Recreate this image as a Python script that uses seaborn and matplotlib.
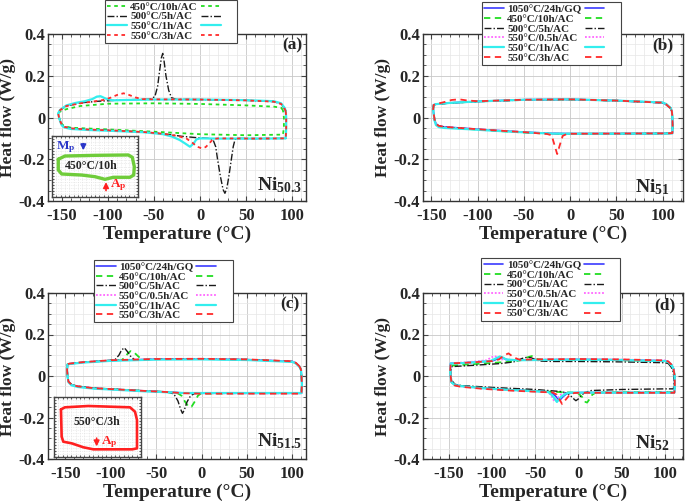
import matplotlib
matplotlib.use('Agg')
import matplotlib.pyplot as plt
from matplotlib.ticker import MultipleLocator, FuncFormatter
import seaborn as sns

# ---- data (temperature in C, heat flow in W/g) ----
LBL_GQ = '1050°C/24h/GQ'
LBL_450 = '450°C/10h/AC'
LBL_500 = '500°C/5h/AC'
LBL_05 = '550°C/0.5h/AC'
LBL_1 = '550°C/1h/AC'
LBL_3 = '550°C/3h/AC'

# (a) Ni50.3
A_GREEN_T = [90, 88, 80, 50, 0, -50, -100, -130, -145, -152, -154, -153, -151, -148, -140, -120, -100, -50, 0, 50, 90, 91, 91, 90]
A_GREEN_HF = [0.035, 0.047, 0.052, 0.058, 0.065, 0.068, 0.066, 0.055, 0.04, 0.028, 0.02, 0.0, -0.025, -0.04, -0.049, -0.053, -0.057, -0.068, -0.08, -0.085, -0.082, -0.05, 0.0, 0.035]
A_BLACK_T = [93, 92, 88, 80, 50, 0, -26, -31, -34, -37, -39, -40.5, -42, -44, -46, -49, -54, -60, -80, -110, -130, -145, -152, -154, -153, -151.5, -150, -147, -140, -120, -90, -60, -40, -20, 0, 10, 14, 17, 19, 22, 25, 27, 29, 31, 34, 36, 38, 42, 60, 93, 93.5, 93.5, 93]
A_BLACK_HF = [0.03, 0.04, 0.065, 0.076, 0.082, 0.086, 0.087, 0.095, 0.13, 0.2, 0.27, 0.307, 0.285, 0.22, 0.15, 0.1, 0.088, 0.087, 0.085, 0.078, 0.07, 0.055, 0.035, 0.02, 0.0, -0.02, -0.035, -0.045, -0.052, -0.058, -0.063, -0.07, -0.078, -0.09, -0.098, -0.1, -0.105, -0.14, -0.2, -0.28, -0.345, -0.363, -0.34, -0.29, -0.2, -0.14, -0.105, -0.1, -0.101, -0.1, -0.05, 0.0, 0.03]
A_CYAN_T = [93, 92, 88, 80, 50, 0, -50, -80, -95, -102, -108, -112, -117, -125, -135, -145, -152, -154, -153, -151.5, -150, -147, -140, -120, -90, -60, -40, -30, -22, -16, -11, -7, -4, 0, 20, 60, 93, 93.5, 93.5, 93]
A_CYAN_HF = [0.03, 0.045, 0.068, 0.078, 0.083, 0.086, 0.086, 0.084, 0.082, 0.09, 0.102, 0.1, 0.088, 0.078, 0.07, 0.058, 0.036, 0.02, 0.0, -0.022, -0.038, -0.048, -0.055, -0.06, -0.065, -0.071, -0.08, -0.092, -0.108, -0.125, -0.14, -0.125, -0.105, -0.1, -0.101, -0.101, -0.1, -0.05, 0.0, 0.03]
A_RED_T = [93, 92, 88, 80, 50, 0, -50, -62, -70, -77, -83, -90, -97, -105, -115, -130, -145, -152, -154, -153, -151.5, -150, -147, -140, -120, -90, -60, -40, -25, -15, -8, -3, 2, 6, 10, 14, 20, 60, 93, 93.5, 93.5, 93]
A_RED_HF = [0.03, 0.04, 0.065, 0.076, 0.082, 0.086, 0.087, 0.088, 0.096, 0.108, 0.116, 0.108, 0.095, 0.084, 0.077, 0.068, 0.055, 0.035, 0.02, 0.0, -0.02, -0.035, -0.045, -0.052, -0.058, -0.063, -0.07, -0.078, -0.088, -0.1, -0.122, -0.14, -0.148, -0.142, -0.125, -0.103, -0.1, -0.101, -0.1, -0.05, 0.0, 0.03]

# (b) Ni51
B_T = [108.5, 104, 100, 50, 0, -50, -100, -130, -145, -147.5, -148, -147.5, -146.5, -145, -142, -136, -110, -80, -50, -20, 0, 50, 100, 110.5, 110.8, 110.5, 110, 108.5]
B_BLUE_HF = [0.044, 0.062, 0.071, 0.081, 0.087, 0.085, 0.077, 0.07, 0.064, 0.06, 0.04, 0.02, -0.01, -0.03, -0.04, -0.045, -0.053, -0.062, -0.07, -0.076, -0.077, -0.077, -0.076, -0.075, -0.04, 0.0, 0.03, 0.044]
B_GREEN_HF = [0.045, 0.063, 0.072, 0.081, 0.086, 0.084, 0.077, 0.069, 0.063, 0.059, 0.04, 0.02, -0.012, -0.032, -0.042, -0.047, -0.055, -0.064, -0.072, -0.078, -0.078, -0.077, -0.076, -0.075, -0.04, 0.0, 0.03, 0.045]
B_BLACK_HF = [0.043, 0.061, 0.07, 0.08, 0.086, 0.084, 0.076, 0.069, 0.063, 0.059, 0.04, 0.02, -0.011, -0.031, -0.041, -0.046, -0.054, -0.063, -0.071, -0.077, -0.078, -0.078, -0.077, -0.076, -0.04, 0.0, 0.03, 0.043]
B_MAG_HF = [0.045, 0.063, 0.071, 0.081, 0.087, 0.085, 0.077, 0.07, 0.064, 0.06, 0.04, 0.02, -0.012, -0.031, -0.041, -0.046, -0.054, -0.062, -0.07, -0.076, -0.078, -0.077, -0.076, -0.075, -0.04, 0.0, 0.03, 0.045]
B_CYAN_HF = [0.046, 0.064, 0.072, 0.081, 0.087, 0.085, 0.077, 0.07, 0.064, 0.06, 0.04, 0.018, -0.015, -0.036, -0.046, -0.05, -0.056, -0.064, -0.071, -0.077, -0.078, -0.078, -0.077, -0.076, -0.04, 0.0, 0.03, 0.046]
B_RED_T = [108.5, 104, 100, 50, 0, -50, -100, -112, -120, -128, -136, -145, -147.5, -148, -147.5, -146.5, -145, -142, -136, -110, -80, -50, -25, -20, -17, -14, -11, -8, -5, 0, 50, 100, 110.5, 110.8, 110.5, 110, 108.5]
B_RED_HF = [0.044, 0.062, 0.071, 0.081, 0.087, 0.085, 0.078, 0.082, 0.087, 0.084, 0.074, 0.064, 0.06, 0.04, 0.02, -0.01, -0.03, -0.04, -0.045, -0.053, -0.062, -0.07, -0.079, -0.085, -0.13, -0.175, -0.13, -0.088, -0.082, -0.078, -0.077, -0.076, -0.075, -0.04, 0.0, 0.03, 0.044]

# (c) Ni51.5
C_T = [108, 104, 100, 50, 0, -50, -100, -130, -145, -147.5, -148, -147.5, -146.5, -143, -136, -118, -100, -62, -39, -20, 0, 50, 100, 110, 110.5, 110, 109.5, 108]
C_BLUE_HF = [0.045, 0.062, 0.07, 0.079, 0.082, 0.081, 0.075, 0.066, 0.059, 0.056, 0.03, 0.0, -0.027, -0.042, -0.05, -0.059, -0.063, -0.072, -0.077, -0.082, -0.083, -0.083, -0.083, -0.083, -0.04, 0.0, 0.03, 0.045]
C_MAG_HF = [0.045, 0.062, 0.07, 0.079, 0.082, 0.081, 0.075, 0.066, 0.059, 0.056, 0.03, 0.0, -0.028, -0.043, -0.051, -0.06, -0.064, -0.073, -0.077, -0.082, -0.083, -0.084, -0.084, -0.084, -0.04, 0.0, 0.03, 0.045]
C_CYAN_HF = [0.044, 0.06, 0.068, 0.077, 0.08, 0.079, 0.073, 0.065, 0.058, 0.055, 0.03, 0.0, -0.03, -0.045, -0.053, -0.061, -0.065, -0.074, -0.078, -0.082, -0.082, -0.082, -0.082, -0.082, -0.04, 0.0, 0.03, 0.044]
C_RED_HF = [0.046, 0.063, 0.071, 0.08, 0.083, 0.082, 0.076, 0.067, 0.06, 0.057, 0.03, 0.0, -0.027, -0.042, -0.05, -0.059, -0.063, -0.072, -0.077, -0.083, -0.085, -0.085, -0.085, -0.085, -0.04, 0.0, 0.03, 0.046]
C_BLACK_T = [108, 104, 100, 50, 0, -50, -70, -74, -78, -82, -85, -88, -91, -95, -98, -100, -130, -145, -147.5, -148, -147.5, -146.5, -143, -136, -118, -100, -62, -39, -33, -30, -26, -23, -21, -19, -16, -12, -8, 0, 50, 100, 110, 110.5, 110, 109.5, 108]
C_BLACK_HF = [0.045, 0.062, 0.07, 0.079, 0.082, 0.081, 0.077, 0.079, 0.095, 0.12, 0.136, 0.125, 0.1, 0.08, 0.076, 0.075, 0.066, 0.059, 0.056, 0.03, 0.0, -0.027, -0.042, -0.05, -0.059, -0.063, -0.072, -0.077, -0.082, -0.09, -0.12, -0.16, -0.18, -0.165, -0.125, -0.095, -0.085, -0.083, -0.083, -0.083, -0.083, -0.04, 0.0, 0.03, 0.045]
C_GREEN_T = [108, 104, 100, 50, 0, -50, -63, -67, -71, -75, -78, -81, -84, -88, -100, -130, -145, -147.5, -148, -147.5, -146.5, -143, -136, -118, -100, -62, -39, -26, -22, -18, -14, -11, -7, -4, -1, 50, 100, 110, 110.5, 110, 109.5, 108]
C_GREEN_HF = [0.045, 0.062, 0.07, 0.079, 0.082, 0.081, 0.078, 0.084, 0.1, 0.117, 0.12, 0.11, 0.09, 0.077, 0.075, 0.066, 0.059, 0.056, 0.03, 0.0, -0.027, -0.042, -0.05, -0.059, -0.063, -0.072, -0.077, -0.084, -0.095, -0.125, -0.15, -0.148, -0.12, -0.095, -0.085, -0.083, -0.083, -0.083, -0.04, 0.0, 0.03, 0.045]

# (d) Ni52
D_BLUE_T = [107.7, 104, 100, 50, 0, -50, -70, -82, -87, -90, -94, -100, -130, -148, -148.5, -148, -147, -143, -136, -110, -80, -44, -32, -27, -22, -18, -13, 0, 50, 100, 111, 111.5, 111.3, 110, 107.7]
D_BLUE_HF = [0.053, 0.068, 0.073, 0.078, 0.08, 0.078, 0.077, 0.078, 0.086, 0.09, 0.082, 0.072, 0.064, 0.061, 0.03, 0.0, -0.03, -0.043, -0.048, -0.058, -0.066, -0.074, -0.077, -0.095, -0.118, -0.1, -0.083, -0.08, -0.08, -0.08, -0.08, -0.04, 0.0, 0.035, 0.053]
D_GREEN_T = [107.5, 104, 100, 50, 0, -40, -48, -54, -59, -64, -75, -100, -130, -148, -148.5, -148, -147, -143, -136, -110, -80, -44, -5, 0, 4, 8, 10, 13, 16, 20, 50, 100, 111, 111.5, 111.3, 110, 107.5]
D_GREEN_HF = [0.052, 0.066, 0.071, 0.076, 0.078, 0.078, 0.082, 0.096, 0.09, 0.078, 0.07, 0.063, 0.055, 0.05, 0.025, 0.0, -0.03, -0.043, -0.048, -0.058, -0.066, -0.074, -0.08, -0.085, -0.1, -0.125, -0.128, -0.11, -0.09, -0.08, -0.078, -0.077, -0.077, -0.04, 0.0, 0.035, 0.052]
D_BLACK_T = [107, 104, 100, 50, 0, -30, -45, -50, -55, -60, -65, -75, -90, -120, -140, -147, -148, -147, -143, -136, -100, -50, -20, -12, -8, -5, -3, 0, 3, 7, 15, 50, 100, 110, 110.5, 110.3, 109, 107]
D_BLACK_HF = [0.045, 0.06, 0.064, 0.068, 0.07, 0.07, 0.072, 0.08, 0.088, 0.09, 0.085, 0.068, 0.06, 0.052, 0.047, 0.045, 0.02, -0.02, -0.04, -0.046, -0.055, -0.065, -0.075, -0.085, -0.1, -0.112, -0.119, -0.11, -0.095, -0.08, -0.07, -0.065, -0.062, -0.062, -0.03, 0.0, 0.03, 0.045]
D_MAG_T = [107.7, 104, 100, 50, 0, -50, -75, -88, -93, -97, -101, -106, -130, -148, -148.5, -148, -147, -143, -136, -110, -80, -44, -36, -32, -28, -24, -20, -14, 0, 50, 100, 111, 111.5, 111.3, 110, 107.7]
D_MAG_HF = [0.055, 0.07, 0.075, 0.079, 0.081, 0.079, 0.077, 0.08, 0.088, 0.096, 0.09, 0.076, 0.066, 0.062, 0.03, 0.0, -0.03, -0.045, -0.05, -0.06, -0.068, -0.075, -0.077, -0.09, -0.122, -0.105, -0.088, -0.081, -0.08, -0.08, -0.079, -0.079, -0.04, 0.0, 0.035, 0.055]
D_CYAN_T = [107.7, 104, 100, 50, 0, -50, -72, -84, -88, -91, -95, -102, -130, -148, -148.5, -148, -147, -143, -136, -110, -80, -44, -35, -30, -25, -20, -15, -10, 0, 50, 100, 111, 111.5, 111.3, 110, 107.7]
D_CYAN_HF = [0.052, 0.067, 0.072, 0.077, 0.079, 0.077, 0.076, 0.08, 0.09, 0.094, 0.086, 0.072, 0.063, 0.06, 0.03, 0.0, -0.03, -0.044, -0.049, -0.059, -0.067, -0.075, -0.077, -0.095, -0.125, -0.1, -0.085, -0.08, -0.08, -0.08, -0.08, -0.08, -0.04, 0.0, 0.035, 0.052]
D_RED_T = [107.7, 104, 100, 50, 0, -50, -68, -75, -81, -86, -92, -100, -130, -148, -148.5, -148, -147, -143, -136, -110, -80, -44, -30, -25, -19, -14, -10, -5, 0, 50, 100, 111, 111.5, 111.3, 110, 107.7]
D_RED_HF = [0.055, 0.07, 0.075, 0.08, 0.082, 0.08, 0.078, 0.09, 0.109, 0.1, 0.08, 0.072, 0.064, 0.061, 0.03, 0.0, -0.032, -0.046, -0.052, -0.062, -0.07, -0.077, -0.079, -0.09, -0.135, -0.11, -0.09, -0.082, -0.081, -0.081, -0.081, -0.081, -0.04, 0.0, 0.035, 0.055]

# schematic loops in the two insets (inset-fraction units)
INSET_A_X = [0.073, 0.151, 0.5, 0.887, 0.934, 0.957, 0.95, 0.907, 0.713, 0.616, 0.5, 0.345, 0.113, 0.073, 0.073]
INSET_A_Y = [0.618, 0.672, 0.683, 0.689, 0.651, 0.497, 0.36, 0.323, 0.323, 0.29, 0.333, 0.36, 0.377, 0.443, 0.618]
INSET_C_X = [0.08, 0.126, 0.395, 0.874, 0.931, 0.954, 0.954, 0.9, 0.452, 0.337, 0.203, 0.107, 0.088, 0.08]
INSET_C_Y = [0.794, 0.828, 0.85, 0.828, 0.755, 0.617, 0.144, 0.128, 0.128, 0.162, 0.228, 0.255, 0.338, 0.794]

STYLE = {
    LBL_GQ: dict(color='#3b3bff', ls='-', lw=1.2),
    LBL_450: dict(color='#22dd22', ls=(0, (3.5, 2.5)), lw=1.3),
    LBL_500: dict(color='#1a1a1a', ls=(0, (5, 1.5, 1, 1.5)), lw=1.0),
    LBL_05: dict(color='#ff66ff', ls=(0, (1, 1)), lw=1.3),
    LBL_1: dict(color='#33eeee', ls='-', lw=1.6),
    LBL_3: dict(color='#ff2a2a', ls=(0, (3.5, 2.5)), lw=1.3),
}

sns.set_style('ticks')
plt.rcParams['font.family'] = ['Liberation Serif', 'DejaVu Serif']
plt.rcParams['font.weight'] = 'bold'
plt.rcParams['axes.labelweight'] = 'bold'
plt.rcParams['axes.unicode_minus'] = False
plt.rcParams['mathtext.fontset'] = 'custom'
plt.rcParams['mathtext.rm'] = 'Liberation Serif:bold'
plt.rcParams['mathtext.it'] = 'Liberation Serif:bold:italic'
plt.rcParams['mathtext.bf'] = 'Liberation Serif:bold'

fig = plt.figure(figsize=(6.85, 5.03), dpi=100)


def px_rect(l, t, r, b):
    return [l / 685, 1 - b / 503, (r - l) / 685, (b - t) / 503]


def style_axes(ax, xlim):
    ax.set_xlim(xlim)
    ax.set_ylim(-0.4, 0.4)
    ax.xaxis.set_major_locator(MultipleLocator(50))
    ax.xaxis.set_minor_locator(MultipleLocator(10))
    ax.yaxis.set_major_locator(MultipleLocator(0.2))
    ax.yaxis.set_minor_locator(MultipleLocator(0.05))
    ax.yaxis.set_major_formatter(FuncFormatter(lambda v, p: '0' if abs(v) < 1e-9 else f'{v:.1f}'))
    ax.grid(which='major', color='#c8c8c8', lw=0.6)
    ax.grid(which='minor', color='#e6e6e6', lw=0.5)
    ax.set_axisbelow(True)
    ax.tick_params(which='both', direction='in', top=True, right=True, labelsize=12, color='#444444')
    ax.tick_params(which='major', length=3.5)
    ax.tick_params(which='minor', length=2)
    ax.tick_params(axis='x', pad=5)
    ax.tick_params(axis='y', pad=2)
    for s in ax.spines.values():
        s.set_color('#333333')
        s.set_linewidth(1.0)
    ax.set_xlabel('Temperature (°C)', fontsize=14, labelpad=1)
    ax.set_ylabel('Heat flow (W/g)', fontsize=12.5, labelpad=2)


def draw(ax, T, HF, label, ls=None):
    st = STYLE[label]
    sns.lineplot(x=T, y=HF, ax=ax, sort=False, estimator=None, color=st['color'],
                 linestyle=ls if ls is not None else st['ls'], lw=st['lw'])
    return ax.lines[-1]


def add_legend(ax, handles, labels, cx, top):
    n = len(handles)
    leg = ax.legend(handles + handles, labels + ['    '] * n, ncol=2, loc='upper center',
                    bbox_to_anchor=(cx, top), frameon=True, fancybox=False, edgecolor='#444444',
                    framealpha=1, prop=dict(family='Liberation Serif', weight='bold', size=7.9),
                    handlelength=1.8, handletextpad=0.3, columnspacing=0.3, labelspacing=0.0,
                    borderpad=0.2, borderaxespad=0)
    leg.get_frame().set_linewidth(0.8)
    leg.set_zorder(10)


def add_inset(rect, lx, ly, color, lw):
    iax = fig.add_axes(rect)
    iax.set_xlim(0, 1)
    iax.set_ylim(0, 1)
    iax.xaxis.set_major_locator(MultipleLocator(0.1))
    iax.xaxis.set_minor_locator(MultipleLocator(0.05))
    iax.yaxis.set_major_locator(MultipleLocator(0.1))
    iax.yaxis.set_minor_locator(MultipleLocator(0.05))
    iax.grid(which='both', color='#dddddd', lw=0.5, ls=':')
    iax.tick_params(which='both', direction='in', top=True, right=True, length=1.5,
                    labelbottom=False, labelleft=False, color='#555555')
    for s in iax.spines.values():
        s.set_color('#444444')
        s.set_linewidth(1.0)
    sns.lineplot(x=lx, y=ly, ax=iax, sort=False, estimator=None, color=color, lw=lw)
    iax.set_xlabel('')
    iax.set_ylabel('')
    return iax


# ---- (a) ----
ax_a = fig.add_axes(px_rect(48, 34, 306, 201))
h = [draw(ax_a, A_GREEN_T, A_GREEN_HF, LBL_450, ls=(0, (2, 2))),
     draw(ax_a, A_BLACK_T, A_BLACK_HF, LBL_500),
     draw(ax_a, A_CYAN_T, A_CYAN_HF, LBL_1),
     draw(ax_a, A_RED_T, A_RED_HF, LBL_3, ls=(0, (2, 2)))]
style_axes(ax_a, (-165, 115))
add_legend(ax_a, h, [LBL_450, LBL_500, LBL_1, LBL_3], 0.477, 1.204)
ax_a.text(0.946, 0.934, '(a)', transform=ax_a.transAxes, ha='center', va='center', fontsize=12.5)
ax_a.text(0.985, 0.065, r'Ni$_{\mathrm{50.3}}$', transform=ax_a.transAxes, ha='right', va='baseline', fontsize=14)

# ---- (b) ----
ax_b = fig.add_axes(px_rect(423, 34, 683, 201))
h = [draw(ax_b, B_T, B_BLUE_HF, LBL_GQ),
     draw(ax_b, B_T, B_GREEN_HF, LBL_450),
     draw(ax_b, B_T, B_BLACK_HF, LBL_500),
     draw(ax_b, B_T, B_MAG_HF, LBL_05),
     draw(ax_b, B_T, B_CYAN_HF, LBL_1),
     draw(ax_b, B_RED_T, B_RED_HF, LBL_3)]
style_axes(ax_b, (-159, 122))
labels6 = [LBL_GQ, LBL_450, LBL_500, LBL_05, LBL_1, LBL_3]
add_legend(ax_b, h, labels6, 0.494, 1.19)
ax_b.text(0.923, 0.934, '(b)', transform=ax_b.transAxes, ha='center', va='center', fontsize=12.5)
ax_b.text(0.95, 0.055, r'Ni$_{\mathrm{51}}$', transform=ax_b.transAxes, ha='right', va='baseline', fontsize=14)

# ---- (c) ----
ax_c = fig.add_axes(px_rect(48, 293, 306, 459))
h = [draw(ax_c, C_T, C_BLUE_HF, LBL_GQ),
     draw(ax_c, C_GREEN_T, C_GREEN_HF, LBL_450),
     draw(ax_c, C_BLACK_T, C_BLACK_HF, LBL_500),
     draw(ax_c, C_T, C_MAG_HF, LBL_05),
     draw(ax_c, C_T, C_CYAN_HF, LBL_1),
     draw(ax_c, C_T, C_RED_HF, LBL_3)]
style_axes(ax_c, (-169, 115))
add_legend(ax_c, h, labels6, 0.446, 1.199)
ax_c.text(0.938, 0.934, '(c)', transform=ax_c.transAxes, ha='center', va='center', fontsize=12.5)
ax_c.text(0.985, 0.074, r'Ni$_{\mathrm{51.5}}$', transform=ax_c.transAxes, ha='right', va='baseline', fontsize=14)

# ---- (d) ----
ax_d = fig.add_axes(px_rect(423, 293, 683, 459))
h = [draw(ax_d, D_BLUE_T, D_BLUE_HF, LBL_GQ),
     draw(ax_d, D_GREEN_T, D_GREEN_HF, LBL_450),
     draw(ax_d, D_BLACK_T, D_BLACK_HF, LBL_500),
     draw(ax_d, D_MAG_T, D_MAG_HF, LBL_05),
     draw(ax_d, D_CYAN_T, D_CYAN_HF, LBL_1),
     draw(ax_d, D_RED_T, D_RED_HF, LBL_3)]
style_axes(ax_d, (-180, 121))
add_legend(ax_d, h, labels6, 0.492, 1.21)
ax_d.text(0.931, 0.928, '(d)', transform=ax_d.transAxes, ha='center', va='center', fontsize=12.5)
ax_d.text(0.95, 0.064, r'Ni$_{\mathrm{52}}$', transform=ax_d.transAxes, ha='right', va='baseline', fontsize=14)

# ---- insets ----
ia = add_inset(px_rect(52, 136, 138, 197), INSET_A_X, INSET_A_Y, '#6fcc3a', 2.4)
ia.text(0.16, 0.815, r'M$_{\mathrm{p}}$', color='#2a36c8', ha='center', va='center', fontsize=9.5)
ia.annotate('', xy=(0.364, 0.72), xytext=(0.364, 0.92),
            arrowprops=dict(arrowstyle='-|>', color='#2a36c8', lw=1.2, mutation_scale=8))
ia.text(0.46, 0.51, '450°C/10h', ha='center', va='center', fontsize=8.5)
ia.annotate('', xy=(0.628, 0.29), xytext=(0.628, 0.06),
            arrowprops=dict(arrowstyle='-|>', color='#ff2020', lw=1.2, mutation_scale=8))
ia.text(0.77, 0.19, r'A$_{\mathrm{p}}$', color='#ff2020', ha='center', va='center', fontsize=9.5)

ic = add_inset(px_rect(54, 397, 141, 457), INSET_C_X, INSET_C_Y, '#ff2020', 1.9)
ic.text(0.49, 0.59, '550°C/3h', ha='center', va='center', fontsize=8.5)
ic.annotate('', xy=(0.49, 0.13), xytext=(0.49, 0.36),
            arrowprops=dict(arrowstyle='-|>', color='#ff2020', lw=1.2, mutation_scale=8))
ic.text(0.64, 0.24, r'A$_{\mathrm{p}}$', color='#ff2020', ha='center', va='center', fontsize=9.5)

fig.savefig('out.png', dpi=100)
